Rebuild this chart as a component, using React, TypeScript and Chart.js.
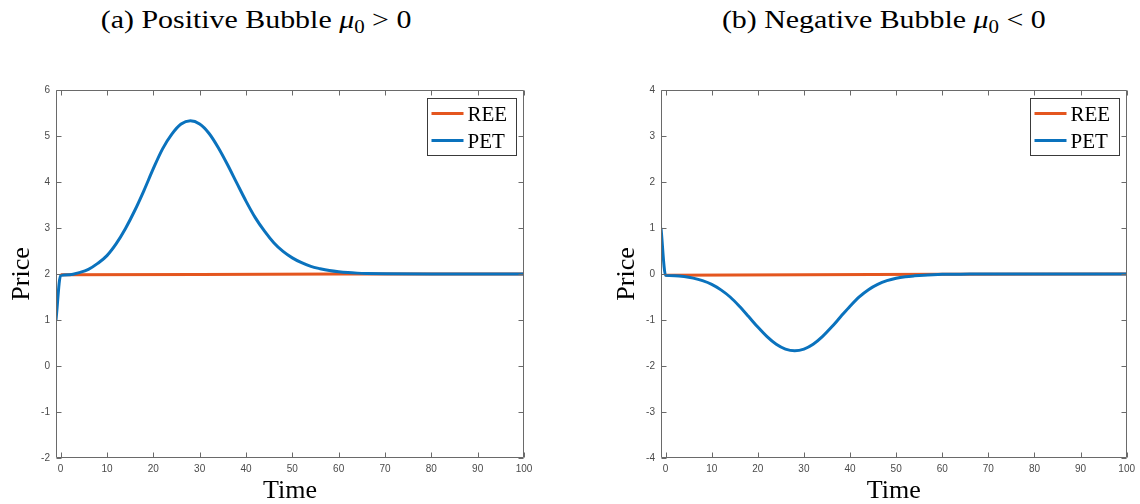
import React, { useEffect, useRef } from 'react';
import { Chart, registerables } from 'chart.js';

Chart.register(...registerables);

// ---------- data ----------
const X_TICKS = [0, 10, 20, 30, 40, 50, 60, 70, 80, 90, 100];
const Y_TICKS_POS = [-2, -1, 0, 1, 2, 3, 4, 5, 6];
const Y_TICKS_NEG = [-4, -3, -2, -1, 0, 1, 2, 3, 4];

const TIME = [-1, 0, 2, 4, 6, 8, 10, 12, 14, 16, 18, 20, 22, 24, 26, 28, 30, 32, 34, 36, 38, 40, 42, 44, 46, 48, 50, 52, 54, 56, 58, 60, 62, 64, 66, 70, 80, 100];

const PET_POS = [1.0, 1.97, 1.985, 2.03, 2.1, 2.23, 2.4, 2.66, 2.99, 3.38, 3.82, 4.29, 4.72, 5.04, 5.26, 5.33, 5.26, 5.06, 4.75, 4.38, 3.98, 3.585, 3.225, 2.93, 2.68, 2.49, 2.35, 2.245, 2.165, 2.115, 2.075, 2.048, 2.03, 2.019, 2.012, 2.005, 2.0, 2.0];

const PET_NEG = [1.0, -0.03, -0.04, -0.055, -0.09, -0.145, -0.225, -0.345, -0.5, -0.7, -0.925, -1.154, -1.362, -1.528, -1.633, -1.67, -1.633, -1.528, -1.362, -1.154, -0.925, -0.7, -0.497, -0.34, -0.225, -0.145, -0.092, -0.06, -0.04, -0.025, -0.015, -0.008, -0.005, -0.003, -0.002, -0.001, 0, 0];

const TIME_REE = [0, 30, 60, 100];
const REE_POS = [1.985, 1.99, 2.0, 2.0];
const REE_NEG = [-0.025, -0.015, -0.005, 0];

const SERIES_NAMES = ['REE', 'PET'];

// ---------- style ----------
const ORANGE = '#E4561F';
const BLUE = '#0A72BD';
const FRAME = '#6a6a6a';
const TICK_TEXT = '#4a4a4a';
const SERIF = '"Liberation Serif", "Times New Roman", serif';
const SANS = '"Liberation Sans", Arial, sans-serif';
const TICK_LEN = 5;

const matlabAxes = {
  id: 'matlabAxes',
  afterDatasetsDraw(chart: any, _args: any, opts: any) {
    const { ctx, chartArea: a } = chart;
    const xs = chart.scales.x;
    const ys = chart.scales.y;
    const L = Math.round(a.left) + 0.5;
    const R = Math.round(a.right) - 0.5;
    const T = Math.round(a.top) + 0.5;
    const B = Math.round(a.bottom) - 0.5;
    ctx.save();
    ctx.strokeStyle = FRAME;
    ctx.lineWidth = 1;
    ctx.beginPath();
    ctx.rect(L, T, R - L, B - T);
    ctx.stroke();
    ctx.beginPath();
    for (const v of opts.xTicks) {
      const px = Math.round(xs.getPixelForValue(v)) + 0.5;
      ctx.moveTo(px, B);
      ctx.lineTo(px, B - TICK_LEN);
      ctx.moveTo(px, T);
      ctx.lineTo(px, T + TICK_LEN);
    }
    for (const v of opts.yTicks) {
      const py = Math.round(ys.getPixelForValue(v)) + 0.5;
      ctx.moveTo(L, py);
      ctx.lineTo(L + TICK_LEN, py);
      ctx.moveTo(R, py);
      ctx.lineTo(R - TICK_LEN, py);
    }
    ctx.stroke();

    // legend
    const w = 89;
    const h = 57;
    const bx = Math.round(a.right) - 8 - w + 0.5;
    const by = Math.round(a.top) + 8 + 0.5;
    ctx.fillStyle = '#ffffff';
    ctx.fillRect(bx, by, w, h);
    ctx.strokeStyle = '#3a3a3a';
    ctx.strokeRect(bx, by, w, h);
    const items = chart.data.datasets.slice().sort((p: any, q: any) => p.legendIndex - q.legendIndex);
    items.forEach((ds: any, i: number) => {
      const ly = by + 15 + i * 27;
      ctx.strokeStyle = ds.borderColor;
      ctx.lineWidth = 3;
      ctx.beginPath();
      ctx.moveTo(bx + 4, ly);
      ctx.lineTo(bx + 36, ly);
      ctx.stroke();
      ctx.fillStyle = '#000';
      ctx.font = `21px ${SERIF}`;
      ctx.textBaseline = 'alphabetic';
      ctx.textAlign = 'left';
      ctx.fillText(ds.label, bx + 40, ly + 7);
    });
    ctx.restore();
  },
};

function buildConfig(pet: number[], ree: number[], yMin: number, yMax: number, yTicks: number[], padLeft: number, padRight: number) {
  return {
    type: 'line' as const,
    data: {
      datasets: [
        {
          label: SERIES_NAMES[1],
          legendIndex: 1,
          order: 0,
          data: TIME.map((t, i) => ({ x: t, y: pet[i] })),
          borderColor: BLUE,
          borderWidth: 3,
          pointRadius: 0,
          cubicInterpolationMode: 'monotone',
          fill: false,
        },
        {
          label: SERIES_NAMES[0],
          legendIndex: 0,
          order: 1,
          data: TIME_REE.map((t, i) => ({ x: t, y: ree[i] })),
          borderColor: ORANGE,
          borderWidth: 3,
          pointRadius: 0,
          fill: false,
        },
      ],
    },
    options: {
      responsive: false,
      animation: false,
      devicePixelRatio: 1,
      layout: { padding: { left: padLeft, right: padRight, top: 90, bottom: 0 } },
      plugins: {
        legend: { display: false },
        tooltip: { enabled: false },
        matlabAxes: { xTicks: X_TICKS, yTicks },
      },
      scales: {
        x: {
          type: 'linear',
          min: -1,
          max: 100,
          afterBuildTicks: (s: any) => {
            s.ticks = X_TICKS.map((v) => ({ value: v }));
          },
          afterFit: (s: any) => {
            s.height = 46;
          },
          grid: { display: false, drawTicks: false },
          border: { display: false },
          ticks: { padding: 5, color: TICK_TEXT, font: { family: SANS, size: 10 }, maxRotation: 0 },
          title: { display: true, text: 'Time', color: '#000', font: { family: SERIF, size: 26, lineHeight: 1 }, padding: { top: 0, bottom: 0 } },
        },
        y: {
          type: 'linear',
          min: yMin,
          max: yMax,
          afterBuildTicks: (s: any) => {
            s.ticks = yTicks.map((v) => ({ value: v }));
          },
          afterFit: (s: any) => {
            s.width = 56;
          },
          grid: { display: false, drawTicks: false },
          border: { display: false },
          ticks: { padding: 6, color: TICK_TEXT, font: { family: SANS, size: 10 } },
          title: { display: true, text: 'Price', color: '#000', font: { family: SERIF, size: 26, lineHeight: 1 }, padding: { top: 9, bottom: 0 } },
        },
      },
    },
    plugins: [matlabAxes],
  };
}

function Panel(props: { left: number; pet: number[]; ree: number[]; yMin: number; yMax: number; yTicks: number[]; padLeft: number; padRight: number }) {
  const ref = useRef<HTMLCanvasElement>(null);
  useEffect(() => {
    const cfg: any = buildConfig(props.pet, props.ree, props.yMin, props.yMax, props.yTicks, props.padLeft, props.padRight);
    const chart = new Chart(ref.current as HTMLCanvasElement, cfg);
    return () => chart.destroy();
  }, []);
  return (
    <canvas
      ref={ref}
      width={570}
      height={504}
      style={{ position: 'absolute', left: props.left, top: 0, width: 570, height: 504 }}
    />
  );
}

function Caption(props: { center: number; letter: string; word: string; rel: string }) {
  return (
    <div
      style={{
        position: 'absolute',
        left: props.center - 300,
        top: 7,
        width: 600,
        textAlign: 'center',
        fontFamily: SERIF,
        fontSize: 26,
        lineHeight: '26px',
        color: '#000',
        whiteSpace: 'nowrap',
      }}
    >
      <span style={{ display: 'inline-block', transform: 'scaleX(1.15)' }}>
        ({props.letter}) {props.word} Bubble <span style={{ fontStyle: 'italic' }}>μ</span>
        <span style={{ fontSize: '0.7em', position: 'relative', top: '0.3em' }}>0</span> {props.rel} 0
      </span>
    </div>
  );
}

export default function App() {
  return (
    <div style={{ position: 'absolute', left: 0, top: 0, width: 1140, height: 504, background: '#fff', overflow: 'hidden' }}>
      <Caption center={256} letter="a" word="Positive" rel=">" />
      <Caption center={884} letter="b" word="Negative" rel="<" />
      <Panel left={0} pet={PET_POS} ree={REE_POS} yMin={-2} yMax={6} yTicks={Y_TICKS_POS} padLeft={0} padRight={46} />
      <Panel left={570} pet={PET_NEG} ree={REE_NEG} yMin={-4} yMax={4} yTicks={Y_TICKS_NEG} padLeft={35} padRight={12} />
    </div>
  );
}
